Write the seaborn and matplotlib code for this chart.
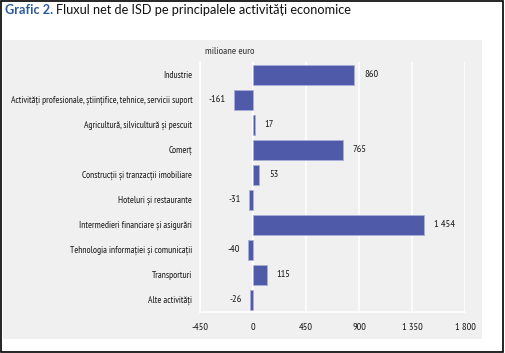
import pandas as pd
import matplotlib.pyplot as plt
import seaborn as sns
from matplotlib.patches import Rectangle

# Data (milioane euro)
sectors = [
    'Industrie',
    'Activități profesionale, științifice, tehnice, servicii suport',
    'Agricultură, silvicultură și pescuit',
    'Comerț',
    'Construcții și tranzacții imobiliare',
    'Hoteluri și restaurante',
    'Intermedieri financiare și asigurări',
    'Tehnologia informației și comunicații',
    'Transporturi',
    'Alte activități',
]
values = [860, -161, 17, 765, 53, -31, 1454, -40, 115, -26]
x_ticks = [-450, 0, 450, 900, 1350, 1800]
x_tick_labels = ['-450', '0', '450', '900', '1 350', '1 800']

df = pd.DataFrame({'sector': sectors, 'value': values})

sns.set_style('white')
plt.rcParams['font.family'] = ['PT Sans Narrow', 'DejaVu Sans']

fig = plt.figure(figsize=(5.05, 3.53), dpi=100)
panel_bg = '#f0f0f0'
fig.patches.append(Rectangle((3 / 505, 1 - 339 / 353), 479 / 505, 299 / 353,
                             transform=fig.transFigure, facecolor=panel_bg,
                             edgecolor='none', zorder=-2))
fig.patches.append(Rectangle((0.002, 0.004), 0.994, 0.993,
                             transform=fig.transFigure, facecolor='none',
                             edgecolor='black', linewidth=1.2, zorder=5))

ax = fig.add_axes([200 / 505, 1 - 312 / 353, 265 / 505, 250 / 353])
ax.set_facecolor(panel_bg)

sns.barplot(data=df, y='sector', x='value', orient='h', color='#4f5aa8',
            saturation=1, width=0.8, edgecolor='#a9aed6', linewidth=0.6, ax=ax)

ax.set_xlim(-450, 1800)
ax.set_ylim(9.5, -0.5)
ax.set_xticks(x_ticks)
ax.set_xticklabels(x_tick_labels)
ax.grid(axis='x', color='white', linewidth=1.1)
ax.set_axisbelow(True)
ax.axvline(0, color='white', linewidth=1.1, zorder=0.5)
for s in ['top', 'right']:
    ax.spines[s].set_visible(False)
for s in ['left', 'bottom']:
    ax.spines[s].set_color('white')
    ax.spines[s].set_linewidth(1.1)
ax.tick_params(axis='x', length=4, color='white', width=1.1, labelsize=7.5,
               labelcolor='#1a1a1a', pad=4)
ax.tick_params(axis='y', length=0, labelsize=6.8, labelcolor='#1a1a1a', pad=5.5)
ax.set_xlabel('')
ax.set_ylabel('')

for i, v in enumerate(values):
    if v >= 0:
        ax.annotate(f'{v:,}'.replace(',', ' '), (v, i), xytext=(7, 0),
                    textcoords='offset points', va='center', ha='left',
                    fontsize=7.5, color='#1a1a1a')
    else:
        ax.annotate(str(v), (v, i), xytext=(-6, 0),
                    textcoords='offset points', va='center', ha='right',
                    fontsize=7.5, color='#1a1a1a')

fig.text(230 / 505, 1 - 51 / 353, 'milioane euro', ha='center', va='center',
         fontsize=7.5, color='#333333')

t1 = fig.text(5 / 505, 1 - 10 / 353, 'Grafic 2.', ha='left', va='center',
              fontsize=9.2, fontweight='bold', color='#2d5a9a',
              family=['Lato', 'DejaVu Sans'])
fig.canvas.draw()
bb = t1.get_window_extent()
fig.text((bb.x1 + 3) / 505, 1 - 10 / 353,
         'Fluxul net de ISD pe principalele activități economice',
         ha='left', va='center', fontsize=9.2, color='#111111',
         family=['Lato', 'DejaVu Sans'])

fig.savefig('out.png', dpi=100)
